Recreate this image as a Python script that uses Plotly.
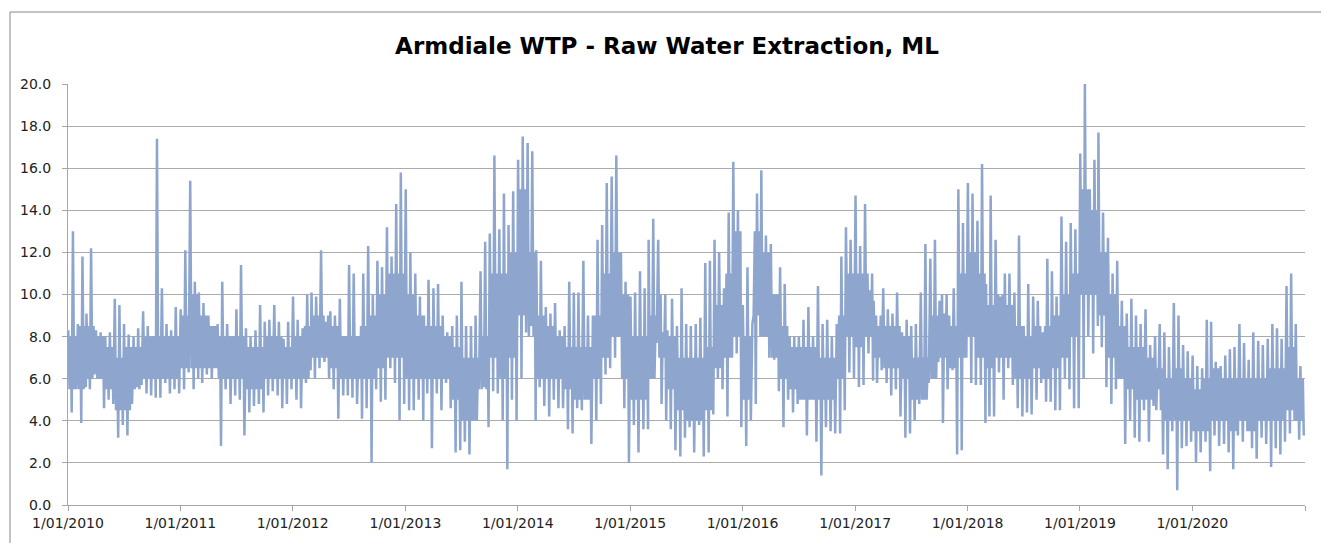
import pandas as pd
import plotly.graph_objects as go

# Half-month envelope readings (peak high, deep low) per year, ML/day
years = list(range(2010, 2021))

hi_2010 = [8.3, 13.0, 8.6, 11.8, 9.1, 12.2, 8.3, 8.2, 8.0, 8.2, 9.8, 9.5, 8.6, 8.1, 8.0, 8.4, 9.2, 8.5, 8.0, 17.4, 10.3, 8.6, 8.3, 9.4]
lo_2010 = [4.4, 5.5, 3.9, 5.6, 5.5, 6.2, 6.0, 4.6, 5.0, 4.8, 3.2, 3.8, 3.3, 4.8, 5.6, 5.7, 5.3, 5.2, 5.1, 5.1, 5.8, 5.3, 5.5, 5.3]

hi_2011 = [9.3, 12.1, 15.4, 10.6, 10.1, 9.6, 9.0, 8.5, 8.6, 10.6, 8.6, 8.0, 9.3, 11.4, 8.4, 8.0, 8.3, 9.5, 8.7, 8.8, 9.5, 8.7, 7.9, 8.7]
lo_2011 = [5.5, 6.3, 5.5, 6.0, 5.8, 6.2, 6.0, 6.5, 2.8, 5.5, 4.8, 5.2, 5.0, 3.3, 4.4, 4.7, 4.8, 4.4, 5.2, 5.4, 5.2, 4.6, 4.8, 5.5]

hi_2012 = [9.9, 8.8, 8.4, 10.0, 10.1, 9.9, 12.1, 8.7, 9.2, 9.0, 9.8, 8.0, 11.4, 11.0, 8.0, 11.0, 12.3, 10.0, 11.6, 11.3, 13.2, 11.8, 14.3, 15.8]
lo_2012 = [5.0, 4.6, 5.8, 6.4, 6.0, 6.5, 6.8, 6.0, 5.5, 4.1, 5.2, 5.2, 5.1, 4.8, 4.1, 4.6, 2.0, 5.5, 4.9, 5.0, 6.5, 5.8, 4.0, 4.8]

hi_2013 = [15.0, 12.0, 11.0, 9.9, 9.0, 10.7, 10.3, 10.5, 9.0, 8.2, 8.5, 9.0, 10.6, 8.5, 8.5, 9.0, 11.1, 12.5, 12.9, 16.6, 13.1, 14.8, 13.3, 14.9]
lo_2013 = [4.5, 4.5, 5.0, 4.0, 5.3, 2.7, 5.3, 4.5, 5.8, 4.6, 2.5, 2.6, 3.0, 2.4, 4.0, 5.5, 5.6, 3.7, 5.4, 5.3, 4.0, 1.7, 5.0, 4.0]

hi_2014 = [16.4, 17.5, 17.2, 16.8, 12.1, 11.6, 9.4, 9.1, 9.6, 8.3, 8.5, 10.6, 10.1, 10.1, 11.6, 9.0, 9.0, 12.6, 13.3, 15.3, 15.6, 16.6, 12.0, 10.6]
lo_2014 = [6.0, 8.2, 8.5, 4.0, 5.6, 4.7, 4.2, 5.0, 4.6, 4.6, 3.6, 3.4, 4.6, 4.5, 5.0, 2.9, 4.0, 4.8, 6.2, 6.5, 7.0, 8.0, 4.6, 2.0]

hi_2015 = [9.9, 10.1, 11.1, 10.3, 12.6, 13.6, 12.6, 8.2, 8.3, 9.8, 8.5, 10.3, 8.6, 8.5, 8.6, 8.9, 11.5, 11.6, 12.6, 12.0, 10.3, 13.9, 16.3, 14.0]
lo_2015 = [3.8, 2.5, 3.6, 3.6, 6.0, 7.7, 4.8, 4.0, 3.6, 2.6, 2.3, 3.2, 3.7, 2.5, 3.8, 2.3, 2.5, 4.3, 6.0, 5.5, 4.2, 7.0, 7.2, 3.7]

hi_2016 = [9.5, 11.3, 8.6, 14.8, 15.9, 12.8, 12.4, 10.0, 11.3, 10.5, 8.0, 8.0, 8.0, 8.8, 9.4, 8.0, 10.4, 8.6, 8.8, 8.0, 8.6, 11.8, 13.2, 12.6]
lo_2016 = [2.8, 4.0, 4.8, 8.0, 8.0, 7.0, 6.9, 5.4, 3.7, 5.0, 4.4, 4.8, 5.0, 3.3, 5.0, 3.0, 1.4, 3.7, 3.5, 3.4, 3.4, 4.5, 6.3, 6.0]

hi_2017 = [14.7, 12.3, 14.3, 10.2, 9.7, 8.5, 10.3, 9.3, 9.1, 10.1, 8.2, 8.8, 8.5, 8.6, 10.1, 12.4, 11.7, 12.6, 9.7, 9.1, 9.0, 10.3, 15.0, 13.4]
lo_2017 = [5.6, 5.7, 7.2, 5.9, 5.8, 6.4, 5.8, 5.2, 5.5, 4.2, 3.2, 3.4, 4.0, 4.8, 5.0, 5.8, 6.0, 6.8, 3.9, 5.5, 6.4, 2.4, 2.6, 7.0]

hi_2018 = [15.3, 14.8, 13.5, 16.2, 10.5, 14.7, 12.6, 9.9, 11.0, 11.0, 10.1, 12.8, 8.5, 10.5, 9.9, 9.7, 8.2, 11.7, 11.1, 9.9, 13.7, 12.5, 13.4, 13.1]
lo_2018 = [5.8, 5.7, 5.7, 3.9, 4.2, 4.2, 6.3, 5.0, 6.5, 5.7, 4.6, 4.2, 4.4, 4.3, 5.0, 5.8, 4.9, 4.9, 4.5, 4.5, 6.0, 5.5, 4.6, 4.6]

hi_2019 = [16.7, 20.0, 15.0, 16.4, 17.7, 13.9, 12.7, 11.0, 11.6, 9.7, 9.1, 9.8, 9.0, 8.6, 9.3, 7.6, 8.0, 8.6, 8.2, 7.5, 9.6, 9.0, 7.6, 7.3]
lo_2019 = [6.0, 8.0, 7.2, 8.5, 7.5, 5.6, 4.8, 5.5, 6.0, 2.9, 4.0, 3.2, 3.0, 4.5, 3.0, 4.7, 5.5, 2.4, 1.7, 3.5, 0.7, 2.7, 2.8, 3.0]

hi_2020 = [7.1, 6.6, 6.5, 8.8, 8.7, 6.8, 6.6, 7.1, 7.4, 7.5, 8.6, 7.7, 6.9, 8.2, 7.8, 7.6, 7.9, 8.6, 8.4, 7.9, 10.4, 11.0, 8.6, 6.6]
lo_2020 = [2.0, 2.5, 3.0, 1.6, 3.3, 2.8, 2.9, 2.5, 1.7, 3.3, 3.0, 3.5, 2.7, 2.2, 3.2, 2.9, 1.8, 2.7, 2.4, 3.0, 3.4, 4.0, 3.1, 3.3]

# Monthly typical daily band (upper, lower) per year
bu_2010 = [8.0, 8.5, 8.5, 8.0, 7.5, 7.0, 7.5, 7.5, 8.0, 8.0, 8.0, 8.0]
bl_2010 = [5.5, 5.5, 6.0, 6.0, 5.5, 4.5, 4.5, 5.5, 6.0, 6.0, 6.0, 6.0]
bu_2011 = [9.0, 10.0, 9.0, 8.5, 8.0, 8.0, 8.0, 7.5, 7.5, 8.0, 8.0, 7.5]
bl_2011 = [6.5, 6.5, 6.5, 6.5, 6.0, 6.0, 6.0, 5.5, 5.5, 6.0, 6.0, 6.0]
bu_2012 = [8.0, 8.5, 9.0, 9.0, 8.5, 8.0, 8.0, 8.5, 9.0, 10.0, 11.0, 11.0]
bl_2012 = [6.0, 6.0, 7.0, 7.0, 6.5, 6.0, 6.0, 6.0, 6.0, 6.5, 7.0, 7.0]
bu_2013 = [10.0, 9.0, 8.5, 8.5, 8.0, 7.5, 7.0, 7.0, 8.0, 11.0, 11.0, 12.0]
bl_2013 = [6.0, 6.0, 6.0, 6.0, 6.0, 5.0, 4.0, 4.0, 5.5, 7.0, 6.0, 7.0]
bu_2014 = [15.0, 12.0, 9.0, 8.5, 8.0, 7.5, 7.5, 7.5, 9.0, 11.0, 12.0, 10.0]
bl_2014 = [9.0, 8.0, 6.0, 6.0, 6.0, 5.5, 5.0, 5.0, 6.0, 7.0, 8.0, 6.0]
bu_2015 = [8.0, 8.0, 9.0, 10.0, 8.0, 7.0, 7.0, 7.0, 7.5, 9.5, 11.0, 13.0]
bl_2015 = [5.0, 5.0, 6.0, 7.0, 5.5, 4.5, 4.0, 4.0, 4.5, 6.5, 7.0, 8.0]
bu_2016 = [8.0, 13.0, 12.0, 10.0, 8.5, 7.5, 7.5, 7.5, 7.0, 7.0, 9.0, 11.0]
bl_2016 = [5.0, 9.0, 8.0, 7.0, 6.0, 5.5, 5.0, 5.0, 5.0, 5.0, 6.0, 8.0]
bu_2017 = [11.0, 11.0, 9.0, 8.5, 8.5, 8.0, 7.0, 7.0, 9.0, 10.0, 8.5, 11.0]
bl_2017 = [7.5, 8.0, 7.0, 6.5, 6.5, 6.0, 5.0, 5.0, 6.0, 7.0, 6.5, 7.0]
bu_2018 = [12.0, 11.0, 9.5, 10.0, 9.5, 8.5, 8.0, 8.5, 8.5, 9.0, 10.0, 11.0]
bl_2018 = [8.0, 7.0, 6.5, 7.0, 7.0, 6.0, 6.0, 6.5, 6.0, 6.5, 7.0, 8.0]
bu_2019 = [15.0, 14.0, 12.0, 10.0, 8.5, 7.5, 7.5, 7.0, 6.5, 6.0, 6.5, 6.0]
bl_2019 = [10.0, 10.0, 9.0, 7.0, 6.0, 5.5, 5.0, 5.0, 4.5, 4.0, 4.0, 4.0]
bu_2020 = [5.5, 6.0, 6.5, 6.0, 6.0, 6.0, 6.0, 6.0, 6.5, 6.5, 7.5, 6.0]
bl_2020 = [3.5, 3.5, 4.0, 4.0, 3.5, 4.0, 3.5, 4.0, 4.0, 4.0, 4.5, 4.0]

tick_years = list(range(2010, 2022))
tick_labels = ["1/01/2010", "1/01/2011", "1/01/2012", "1/01/2013", "1/01/2014", "1/01/2015",
               "1/01/2016", "1/01/2017", "1/01/2018", "1/01/2019", "1/01/2020", ""]

highs = dict(zip(years, [hi_2010, hi_2011, hi_2012, hi_2013, hi_2014, hi_2015,
                         hi_2016, hi_2017, hi_2018, hi_2019, hi_2020]))
lows = dict(zip(years, [lo_2010, lo_2011, lo_2012, lo_2013, lo_2014, lo_2015,
                        lo_2016, lo_2017, lo_2018, lo_2019, lo_2020]))
band_up = dict(zip(years, [bu_2010, bu_2011, bu_2012, bu_2013, bu_2014, bu_2015,
                           bu_2016, bu_2017, bu_2018, bu_2019, bu_2020]))
band_lo = dict(zip(years, [bl_2010, bl_2011, bl_2012, bl_2013, bl_2014, bl_2015,
                           bl_2016, bl_2017, bl_2018, bl_2019, bl_2020]))

xs, ys = [], []
for yr in years:
    for k in range(24):
        m = k // 2
        start = pd.Timestamp(yr, m + 1, 1 if k % 2 == 0 else 16)
        seq = [(1, highs[yr][k]), (5, band_lo[yr][m]), (9, band_up[yr][m]), (12, lows[yr][k])]
        for d, v in seq:
            xs.append(start + pd.Timedelta(days=d))
            ys.append(v)

fig = go.Figure()
fig.add_trace(go.Scatter(x=xs, y=ys, mode="lines",
                         line=dict(color="#8EA6CE", width=2.5),
                         showlegend=False, hoverinfo="skip"))

# page body has an 8px default margin: figure sized so plot lands at x 68-1305, y 84-505
W, H = 1321, 535
L, T, R, B = 60, 76, 24, 38
pw, ph = W - L - R, H - T - B

grid = "#ABABAB"
axis_c = "#A6A6A6"
fig.update_layout(
    width=W, height=H,
    margin=dict(l=L, r=R, t=T, b=B),
    paper_bgcolor="white", plot_bgcolor="white",
    font=dict(family="DejaVu Sans", size=14, color="#222222"),
    title=dict(text="<b>Armdiale WTP - Raw Water Extraction, ML</b>",
               x=(667 - 8) / W, xanchor="center", y=1 - 38 / H, yanchor="middle",
               yref="container", xref="container",
               font=dict(family="DejaVu Sans", size=23, color="#000000")),
    xaxis=dict(range=[pd.Timestamp(2010, 1, 1), pd.Timestamp(2021, 1, 1)],
               tickvals=[pd.Timestamp(y, 1, 1) for y in tick_years],
               ticktext=tick_labels,
               showgrid=False, showline=True, linecolor=axis_c, linewidth=1,
               ticks="outside", ticklen=5, tickcolor=axis_c,
               tickfont=dict(size=14), zeroline=False),
    yaxis=dict(range=[0, 20], dtick=2, tick0=0, tickformat=".1f",
               showgrid=True, gridcolor=grid, gridwidth=1,
               showline=True, linecolor=axis_c, linewidth=1,
               ticks="outside", ticklen=5, tickcolor=axis_c,
               ticklabelstandoff=8, tickfont=dict(size=14), zeroline=False),
    shapes=[dict(type="rect", xref="paper", yref="paper",
                 x0=(2 - L) / pw, x1=(1315 - L) / pw,
                 y0=-0.3, y1=(H - B - 4) / ph,
                 line=dict(color="#868686", width=1), fillcolor="rgba(0,0,0,0)",
                 layer="below")],
)

fig.write_html("out.html")
